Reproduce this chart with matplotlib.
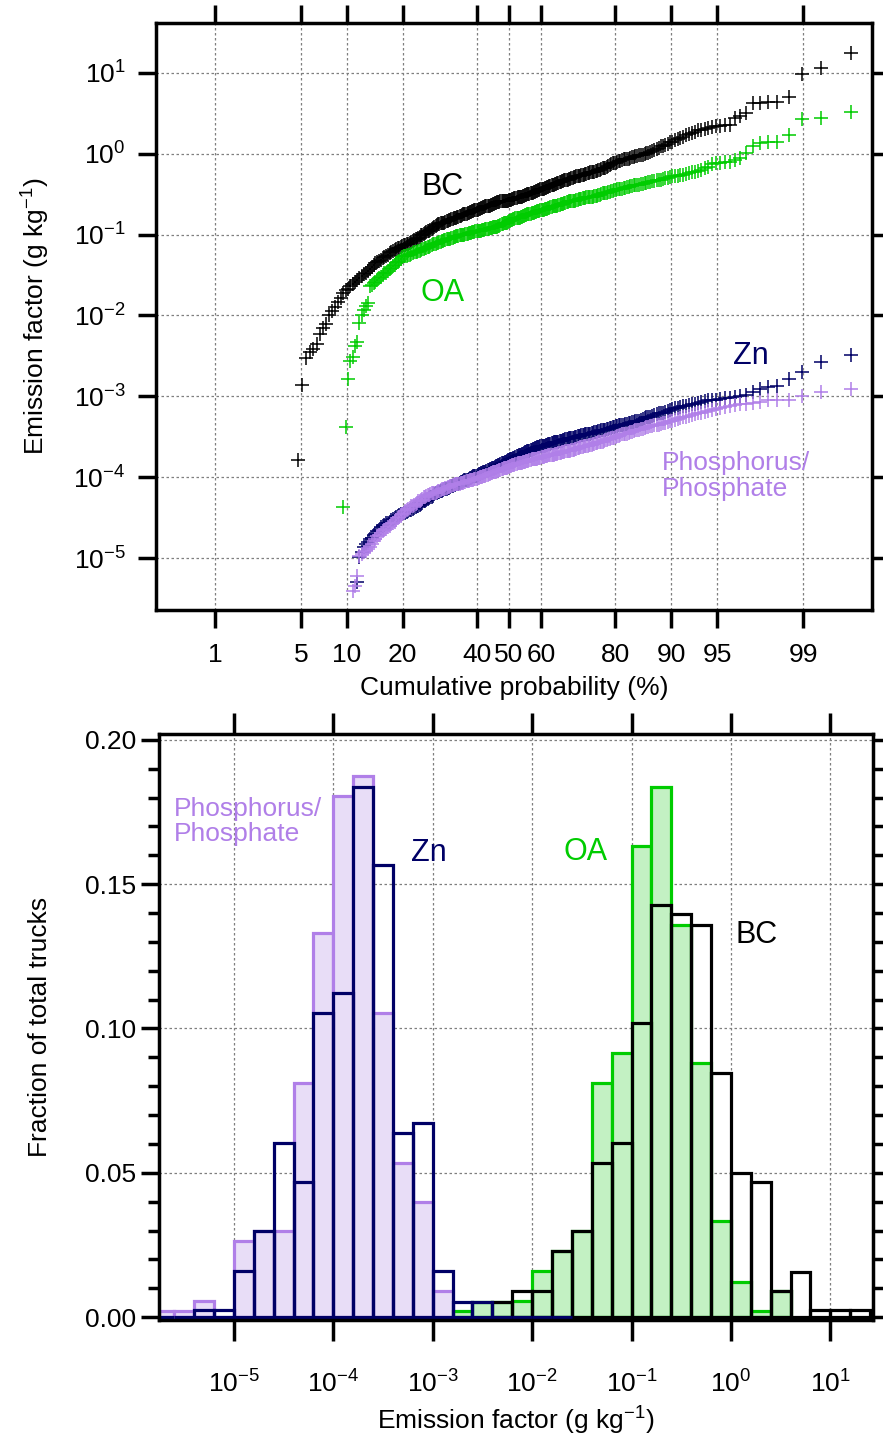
import numpy as np
import matplotlib
matplotlib.use('Agg')
import matplotlib.pyplot as plt
from matplotlib.ticker import FixedLocator, MultipleLocator, NullLocator, LogLocator, FormatStrFormatter
from statistics import NormalDist

plt.rcParams['font.family'] = ['Liberation Sans', 'DejaVu Sans']
plt.rcParams['mathtext.default'] = 'regular'

# number of trucks; the lowest ranks of each species are missing (below detection)
n_trucks = 295

# sorted log10 emission factors (g/kg)
bc_log = [-3.79, -2.86, -2.53, -2.45, -2.41, -2.35, -2.23, -2.15, -2.10, -1.99, -1.94, -1.89, -1.83,
          -1.78, -1.72, -1.69, -1.67, -1.64, -1.61, -1.59, -1.56,
          -1.54, -1.51, -1.49, -1.47, -1.45, -1.42, -1.40, -1.37, -1.35,
          -1.34, -1.32, -1.31, -1.29, -1.28, -1.26, -1.25, -1.23, -1.22, -1.20, -1.19,
          -1.18, -1.17, -1.16, -1.15, -1.14, -1.13, -1.13, -1.12, -1.11, -1.10, -1.09, -1.08, -1.07, -1.06,
          -1.05, -1.04, -1.03, -1.01, -1.00, -0.99, -0.98, -0.97, -0.96, -0.95, -0.94, -0.93, -0.92, -0.90, -0.89, -0.88,
          -0.87, -0.87, -0.86, -0.86, -0.85, -0.85, -0.84, -0.83, -0.83, -0.82, -0.82, -0.81, -0.81, -0.80, -0.79, -0.79,
          -0.78, -0.78, -0.77, -0.77, -0.76, -0.75, -0.75, -0.74, -0.74, -0.73,
          -0.73, -0.72, -0.72, -0.71, -0.71, -0.70, -0.70, -0.69, -0.69, -0.68, -0.68, -0.67, -0.67, -0.66, -0.66,
          -0.65, -0.65, -0.65, -0.64, -0.64, -0.63, -0.63, -0.62, -0.62, -0.61, -0.61, -0.60,
          -0.60, -0.60, -0.59, -0.59, -0.59, -0.59, -0.58, -0.58, -0.58, -0.58, -0.57, -0.57,
          -0.57, -0.56, -0.56, -0.55, -0.55, -0.55, -0.54, -0.54, -0.53, -0.53, -0.53, -0.52, -0.52, -0.51, -0.51,
          -0.50, -0.50, -0.50, -0.49, -0.49, -0.48,
          -0.47, -0.47, -0.46, -0.46, -0.45, -0.45, -0.44, -0.44, -0.43, -0.43, -0.42, -0.42, -0.41, -0.41, -0.40,
          -0.40, -0.39, -0.38, -0.38, -0.37, -0.37, -0.36, -0.36, -0.35, -0.35, -0.34, -0.34, -0.33, -0.33, -0.32,
          -0.32, -0.31, -0.31, -0.30, -0.30, -0.29, -0.29, -0.28, -0.28, -0.27, -0.27, -0.26, -0.26, -0.26, -0.25,
          -0.25, -0.24, -0.24, -0.23, -0.23, -0.22, -0.22, -0.21, -0.21, -0.20, -0.20,
          -0.19, -0.18, -0.17, -0.17, -0.16, -0.15, -0.14, -0.13, -0.12, -0.12, -0.11, -0.10,
          -0.09, -0.09, -0.08, -0.07, -0.07, -0.06, -0.06, -0.05, -0.04, -0.04, -0.03, -0.03, -0.02, -0.01, -0.01,
          0.00, 0.01, 0.01, 0.02,
          0.03, 0.05, 0.06, 0.07, 0.09, 0.10, 0.11, 0.12, 0.14, 0.15,
          0.17, 0.18, 0.20, 0.21, 0.23, 0.24, 0.26, 0.27, 0.29, 0.30,
          0.31, 0.32, 0.33, 0.34, 0.34, 0.35, 0.36,
          0.44, 0.47, 0.51, 0.63, 0.63, 0.64, 0.64, 0.70, 0.99, 1.06, 1.25]

oa_log = [-4.37, -3.38, -2.78, -2.56, -2.51, -2.38, -2.33, -2.09, -2.00, -1.93, -1.88, -1.84, -1.64,
          -1.62, -1.60, -1.58, -1.56, -1.54, -1.52, -1.50, -1.48, -1.47, -1.45, -1.43,
          -1.41, -1.39, -1.37, -1.35, -1.34, -1.32, -1.30, -1.28,
          -1.27, -1.27, -1.26, -1.25, -1.25, -1.24, -1.23, -1.22, -1.22, -1.21,
          -1.20, -1.20, -1.19, -1.18, -1.18, -1.17, -1.16, -1.15, -1.15, -1.14, -1.13, -1.12, -1.12, -1.11, -1.10,
          -1.10, -1.09, -1.09, -1.08, -1.08, -1.07, -1.07, -1.06, -1.06, -1.05, -1.05, -1.04, -1.04, -1.03, -1.03,
          -1.02, -1.02,
          -1.02, -1.01, -1.01, -1.01, -1.00, -1.00, -0.99, -0.99, -0.99, -0.98, -0.98, -0.98, -0.97, -0.97, -0.97,
          -0.96, -0.96,
          -0.96, -0.95, -0.95, -0.95, -0.94, -0.94, -0.94, -0.93, -0.93, -0.93, -0.93, -0.92, -0.92, -0.92, -0.91,
          -0.91, -0.91, -0.90, -0.90,
          -0.89, -0.89, -0.88, -0.87, -0.87, -0.86, -0.86, -0.85, -0.85, -0.84, -0.83, -0.83,
          -0.82, -0.82, -0.81, -0.81, -0.80, -0.80, -0.80, -0.79, -0.79, -0.78, -0.78, -0.77, -0.77, -0.76, -0.76,
          -0.75, -0.75, -0.74, -0.74, -0.73, -0.73,
          -0.73, -0.72, -0.72, -0.71, -0.71, -0.71, -0.70, -0.70, -0.69, -0.69, -0.68, -0.68, -0.68, -0.67, -0.67,
          -0.66, -0.66, -0.65, -0.65, -0.65, -0.64, -0.64, -0.63, -0.63, -0.62, -0.62, -0.62, -0.61, -0.61, -0.60,
          -0.60, -0.59, -0.59, -0.59, -0.58, -0.58, -0.58, -0.57, -0.57, -0.56, -0.56, -0.56, -0.55, -0.55, -0.55,
          -0.54, -0.54, -0.54, -0.53, -0.53, -0.53, -0.52, -0.52, -0.52, -0.51, -0.51,
          -0.50, -0.49, -0.49, -0.48, -0.48, -0.47, -0.47, -0.46, -0.46, -0.45, -0.45, -0.44,
          -0.44, -0.43, -0.43, -0.42, -0.42, -0.41, -0.41, -0.40, -0.40, -0.39, -0.39, -0.38, -0.38, -0.37, -0.37,
          -0.36, -0.36, -0.35, -0.35,
          -0.34, -0.34, -0.33, -0.32, -0.32, -0.31, -0.30, -0.30, -0.29, -0.28, -0.28, -0.27, -0.26, -0.26,
          -0.25, -0.24, -0.23, -0.22, -0.21, -0.20, -0.18, -0.16, -0.13, -0.11,
          -0.11, -0.10, -0.10, -0.08, -0.05, 0.01, 0.10, 0.13, 0.14, 0.15, 0.23, 0.43, 0.44, 0.52]

zn_log = [-5.30, -4.99, -4.93, -4.86, -4.83, -4.80, -4.77,
          -4.75, -4.72, -4.70, -4.67, -4.65, -4.62, -4.60,
          -4.59, -4.57, -4.56, -4.55, -4.53, -4.52, -4.50, -4.49,
          -4.48, -4.47, -4.46, -4.45, -4.44, -4.44, -4.43, -4.42, -4.41, -4.40, -4.39, -4.38, -4.37, -4.36,
          -4.35, -4.34, -4.33, -4.32, -4.30, -4.29, -4.28, -4.27, -4.26, -4.25, -4.24, -4.23, -4.21, -4.20, -4.19,
          -4.18, -4.18, -4.17, -4.17, -4.16, -4.15, -4.15, -4.14, -4.13, -4.13, -4.12, -4.11, -4.11, -4.10, -4.10,
          -4.09, -4.08, -4.08, -4.07, -4.06, -4.06, -4.05,
          -4.04, -4.04, -4.03, -4.03, -4.02, -4.01, -4.01, -4.00, -3.99, -3.99, -3.98, -3.98, -3.97, -3.96, -3.96,
          -3.95, -3.95, -3.94,
          -3.93, -3.93, -3.92, -3.91, -3.91, -3.90, -3.90, -3.89, -3.88, -3.88, -3.87, -3.86, -3.86, -3.85, -3.85,
          -3.84, -3.83, -3.83, -3.82, -3.81, -3.81, -3.80, -3.79, -3.79, -3.78,
          -3.77, -3.77, -3.76, -3.76, -3.75, -3.74, -3.74, -3.73, -3.72, -3.72, -3.71, -3.71, -3.70, -3.69, -3.69,
          -3.68, -3.67, -3.67, -3.66, -3.66, -3.65,
          -3.65, -3.64, -3.64, -3.63, -3.63, -3.63, -3.62, -3.62, -3.61, -3.61, -3.61, -3.60, -3.60, -3.59, -3.59,
          -3.59, -3.58, -3.58, -3.57, -3.57, -3.57, -3.56, -3.56, -3.55, -3.55, -3.55, -3.54, -3.54, -3.53, -3.53,
          -3.53, -3.52, -3.52, -3.51, -3.51, -3.51, -3.50, -3.50, -3.49, -3.49, -3.49, -3.48, -3.48, -3.48, -3.47,
          -3.47, -3.46, -3.46, -3.46, -3.45, -3.45, -3.44, -3.44, -3.44, -3.43, -3.43,
          -3.42, -3.42, -3.41, -3.41, -3.40, -3.40, -3.39, -3.39, -3.38, -3.38, -3.37, -3.37, -3.36, -3.36, -3.35,
          -3.35, -3.34, -3.34, -3.33, -3.33, -3.32, -3.32,
          -3.31, -3.30, -3.30, -3.29, -3.28, -3.27, -3.26, -3.25, -3.25, -3.24, -3.23, -3.22, -3.21, -3.21, -3.20,
          -3.19, -3.18,
          -3.17, -3.16, -3.15, -3.14, -3.13, -3.12, -3.12, -3.11, -3.10, -3.09, -3.08, -3.07,
          -3.06, -3.05, -3.04, -3.04, -3.03, -3.02, -3.02, -3.01, -3.00, -2.98,
          -2.95, -2.91, -2.89, -2.87, -2.79, -2.70, -2.58, -2.49]

p_log = [-5.41, -5.35, -5.22, -4.98, -4.95, -4.93, -4.91, -4.89,
         -4.86, -4.83, -4.79, -4.76, -4.73,
         -4.71, -4.69, -4.67, -4.65, -4.64, -4.62, -4.60,
         -4.58, -4.56, -4.55, -4.53, -4.51, -4.49, -4.47, -4.45, -4.44, -4.42, -4.40,
         -4.39, -4.38, -4.36, -4.35, -4.34, -4.33, -4.32, -4.30, -4.29, -4.28, -4.27, -4.25, -4.24, -4.23,
         -4.22, -4.22, -4.21, -4.20, -4.20, -4.19, -4.19, -4.18, -4.17, -4.17, -4.16, -4.15, -4.15, -4.14, -4.13,
         -4.13, -4.12, -4.12, -4.11,
         -4.11, -4.10, -4.10, -4.09, -4.09, -4.09, -4.08, -4.08, -4.07, -4.07, -4.07, -4.06, -4.06, -4.05, -4.05,
         -4.05, -4.04, -4.04, -4.03, -4.03, -4.02, -4.02, -4.02, -4.01, -4.01, -4.00, -4.00, -4.00, -3.99,
         -3.98, -3.98, -3.97, -3.97, -3.96, -3.96, -3.95, -3.95, -3.94, -3.94, -3.93, -3.93, -3.92, -3.92, -3.91,
         -3.91, -3.90, -3.90, -3.89, -3.89, -3.88, -3.88, -3.87, -3.87, -3.86,
         -3.86, -3.85, -3.85, -3.85, -3.84, -3.84, -3.83, -3.83, -3.83, -3.82, -3.82, -3.81, -3.81, -3.81, -3.80,
         -3.80, -3.80, -3.79, -3.79, -3.78, -3.78,
         -3.78, -3.77, -3.77, -3.77, -3.76, -3.76, -3.76, -3.75, -3.75, -3.75, -3.74, -3.74, -3.74, -3.73, -3.73,
         -3.73, -3.72, -3.72, -3.72, -3.71, -3.71, -3.71, -3.70, -3.70, -3.70, -3.69, -3.69, -3.69, -3.68, -3.68,
         -3.68, -3.67, -3.67, -3.66, -3.66, -3.66, -3.65, -3.65, -3.64, -3.64, -3.63, -3.63, -3.63, -3.62, -3.62,
         -3.61, -3.61, -3.60, -3.60, -3.60, -3.59, -3.59, -3.58, -3.58, -3.57, -3.57,
         -3.56, -3.56, -3.55, -3.54, -3.54, -3.53, -3.53, -3.52, -3.51, -3.51, -3.50, -3.49, -3.49, -3.48, -3.47,
         -3.47, -3.46, -3.46, -3.45, -3.44, -3.44, -3.43,
         -3.42, -3.42, -3.41, -3.40, -3.40, -3.39, -3.38, -3.38, -3.37, -3.37, -3.36, -3.35, -3.35, -3.34, -3.33,
         -3.33, -3.32,
         -3.31, -3.30, -3.29, -3.28, -3.27, -3.26, -3.25, -3.24, -3.23, -3.22, -3.21, -3.20,
         -3.19, -3.18, -3.17, -3.16, -3.15, -3.13, -3.12, -3.11,
         -3.10, -3.09, -3.08, -3.07, -3.05, -3.04, -3.04, -3.00, -2.95, -2.91]

prob_ticks = [1, 5, 10, 20, 40, 50, 60, 80, 90, 95, 99]

# histogram: fraction of total trucks in 0.2-decade bins (start = log10 of first left edge)
bin_width = 0.2
p_hist_start = -5.8
p_hist = [0.002, 0.002, 0.0056, 0.0, 0.0264, 0.0298, 0.0298, 0.0811, 0.1329, 0.1807, 0.1876,
          0.1053, 0.0535, 0.0398, 0.0091]
zn_hist_start = -5.8
zn_hist = [0.0, 0.0, 0.0025, 0.0025, 0.016, 0.0298, 0.0604, 0.0468, 0.1053, 0.1122, 0.1838,
           0.1565, 0.0638, 0.0673, 0.016, 0.0053, 0.0053, 0.0, 0.0, 0.0, 0.0]
oa_hist_start = -2.8
oa_hist = [0.0022, 0.0053, 0.0053, 0.0056, 0.016, 0.0229, 0.0298, 0.0811, 0.0915, 0.1631, 0.1838,
           0.1358, 0.0880, 0.0333, 0.0122, 0.0022, 0.0091]
bc_hist_start = -2.4
bc_hist = [0.0053, 0.0091, 0.0091, 0.0229, 0.0298, 0.0535, 0.0604, 0.1018, 0.1427, 0.1396, 0.1358,
           0.0846, 0.050, 0.0468, 0.0091, 0.0157, 0.0025, 0.0025, 0.0025]

c_bc = 'black'
c_oa = '#00CC00'
c_oa_fill = '#C3F1C3'
c_zn = '#000066'
c_p = '#B07FE8'
c_p_fill = '#E8DDF7'

nd = NormalDist()
fs = 19
grid_kw = dict(color='#7f7f7f', linestyle=(0, (2, 2)), linewidth=0.9)

fig = plt.figure(figsize=(8.83, 14.39), dpi=100)

# ---- top: probability plot ----
ax1 = fig.add_axes([0.1767, 0.5761, 0.8109, 0.4079])


def prob_x(vals):
    ranks = np.arange(n_trucks - len(vals) + 1, n_trucks + 1)
    return [nd.inv_cdf(r / (n_trucks + 1)) for r in ranks]


for vals, col in [(bc_log, c_bc), (oa_log, c_oa), (zn_log, c_zn), (p_log, c_p)]:
    ax1.plot(prob_x(vals), 10 ** np.array(vals), linestyle='none', marker='+',
             ms=10.5, mew=1.1, color=col)

ax1.set_yscale('log')
ax1.set_xlim(-2.793, 2.872)
ax1.set_ylim(10 ** -5.642, 10 ** 1.617)
ax1.xaxis.set_major_locator(FixedLocator([nd.inv_cdf(t / 100) for t in prob_ticks]))
ax1.set_xticklabels([str(t) for t in prob_ticks])
ax1.yaxis.set_major_locator(LogLocator(base=10, numticks=20))
ax1.yaxis.set_minor_locator(NullLocator())
ax1.tick_params(axis='both', which='major', direction='out', length=13, width=2.5,
                top=True, right=True, labelsize=fs)
ax1.tick_params(axis='x', pad=11)
ax1.tick_params(axis='y', pad=9)
ax1.grid(True, which='major', **grid_kw)
for s in ax1.spines.values():
    s.set_linewidth(2.5)
ax1.set_xlabel('Cumulative probability (%)', fontsize=fs)
ax1.set_ylabel('Emission factor (g kg$^{-1}$)', fontsize=fs)
ax1.xaxis.set_label_coords(0.5, -0.113)
ax1.yaxis.set_label_coords(-0.145, 0.5)

ax1.text(nd.inv_cdf(0.30), 10 ** -0.41, 'BC', color=c_bc, fontsize=22, ha='center', va='center')
ax1.text(nd.inv_cdf(0.30), 10 ** -1.72, 'OA', color=c_oa, fontsize=22, ha='center', va='center')
ax1.text(nd.inv_cdf(0.972), 10 ** -2.5, 'Zn', color=c_zn, fontsize=22, ha='center', va='center')
ax1.text(nd.inv_cdf(0.887), 10 ** -3.99, 'Phosphorus/\nPhosphate', color=c_p, fontsize=19,
         ha='left', va='center', linespacing=1.1)

# ---- bottom: histograms ----
ax2 = fig.add_axes([0.1801, 0.0827, 0.8086, 0.4072])
ax2.set_axisbelow(True)


def draw_hist(start, frac, edge, face):
    lo = start + bin_width * np.arange(len(frac))
    left = 10 ** lo
    right = 10 ** (lo + bin_width)
    ax2.bar(left, frac, width=right - left, align='edge', facecolor=face,
            edgecolor=edge, linewidth=2.3)


draw_hist(p_hist_start, p_hist, c_p, c_p_fill)
draw_hist(oa_hist_start, oa_hist, c_oa, c_oa_fill)
draw_hist(bc_hist_start, bc_hist, c_bc, 'none')
draw_hist(zn_hist_start, zn_hist, c_zn, 'none')

ax2.set_xscale('log')
ax2.set_xlim(10 ** -5.754, 10 ** 1.43)
ax2.set_ylim(-0.001, 0.202)
ax2.xaxis.set_major_locator(LogLocator(base=10, numticks=20))
ax2.xaxis.set_minor_locator(NullLocator())
ax2.yaxis.set_major_locator(MultipleLocator(0.05))
ax2.yaxis.set_minor_locator(MultipleLocator(0.01))
ax2.yaxis.set_major_formatter(FormatStrFormatter('%.2f'))
ax2.tick_params(axis='both', which='major', direction='out', length=13, width=2.5,
                top=True, right=True, labelsize=fs)
ax2.tick_params(axis='x', length=15, pad=21)
ax2.tick_params(axis='y', which='minor', direction='out', length=8, width=2.5, right=True)
ax2.grid(True, which='major', **grid_kw)
for s in ax2.spines.values():
    s.set_linewidth(2.5)
ax2.set_xlabel('Emission factor (g kg$^{-1}$)', fontsize=fs)
ax2.set_ylabel('Fraction of total trucks', fontsize=fs)
ax2.xaxis.set_label_coords(0.5, -0.145)
ax2.yaxis.set_label_coords(-0.15, 0.5)

ax2.text(10 ** -5.6, 0.1717, 'Phosphorus/\nPhosphate', color=c_p, fontsize=19,
         ha='left', va='center', linespacing=1.1)
ax2.text(10 ** -3.04, 0.1607, 'Zn', color=c_zn, fontsize=22, ha='center', va='center')
ax2.text(10 ** -1.46, 0.161, 'OA', color=c_oa, fontsize=22, ha='center', va='center')
ax2.text(10 ** 0.256, 0.1323, 'BC', color=c_bc, fontsize=22, ha='center', va='center')

fig.savefig('out.png', dpi=100)
